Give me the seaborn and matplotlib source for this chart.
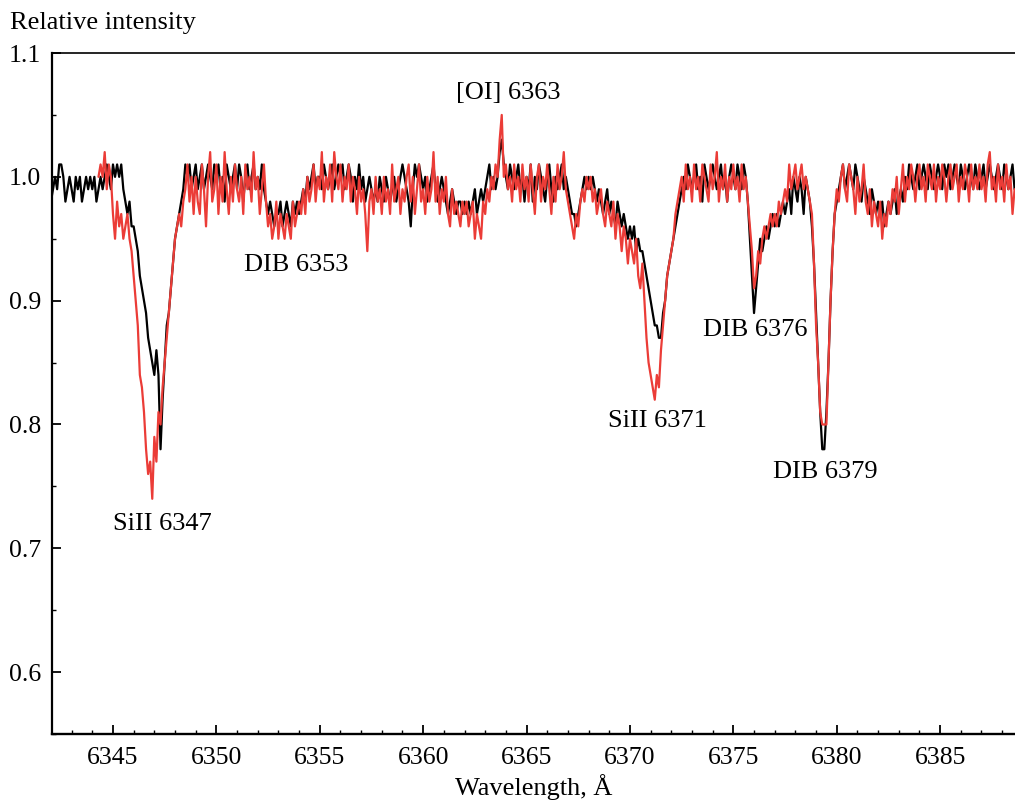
import numpy as np
import pandas as pd
import matplotlib
matplotlib.use("Agg")
import matplotlib.pyplot as plt
import seaborn as sns
from matplotlib.ticker import MultipleLocator

# spectra, in percent of the continuum, 0.1 A sampling
black_start = 6342.0
black_pct = [
    98, 99, 100, 99, 101, 101, 100, 98, 99, 100,      # 6342
    99, 98, 100, 99, 100, 98, 99, 100, 99, 100,       # 6343
    99, 100, 98, 99, 100, 99, 100, 101, 100, 99,      # 6344
    101, 100, 101, 100, 101, 99, 98, 97, 98, 96,      # 6345
    96, 95, 94, 92, 91, 90, 89, 87, 86, 85,           # 6346
    84, 86, 84, 78, 82, 85, 88, 89, 91, 93,           # 6347
    95, 96, 97, 98, 99, 101, 100, 101, 99, 100,       # 6348
    101, 99, 100, 101, 99, 100, 101, 100, 99, 101,    # 6349
    100, 101, 99, 100, 98, 101, 100, 99, 100, 101,    # 6350
    99, 101, 100, 98, 100, 101, 99, 100, 101, 99,     # 6351
    100, 99, 101, 99, 98, 97, 98, 97, 96, 97,         # 6352
    97, 98, 96, 97, 98, 97, 96, 98, 97, 98,           # 6353
    97, 98, 99, 98, 100, 99, 100, 101, 99, 100,       # 6354
    100, 99, 101, 100, 99, 100, 101, 99, 100, 101,    # 6355
    100, 101, 99, 100, 101, 100, 98, 100, 99, 101,    # 6356
    99, 100, 98, 99, 100, 99, 98, 99, 98, 100,        # 6357
    99, 98, 100, 99, 98, 99, 100, 98, 99, 100,        # 6358
    101, 100, 99, 98, 96, 99, 101, 100, 101, 100,     # 6359
    99, 100, 98, 99, 100, 101, 99, 98, 99, 100,       # 6360
    99, 98, 97, 98, 99, 98, 97, 98, 98, 97,           # 6361
    98, 97, 98, 97, 98, 99, 97, 98, 99, 98,           # 6362
    99, 100, 101, 99, 100, 99, 100, 102, 103, 101,    # 6363
    100, 99, 101, 100, 99, 100, 101, 99, 100, 98,     # 6364
    100, 99, 101, 98, 100, 99, 101, 100, 99, 98,      # 6365
    100, 101, 99, 98, 100, 99, 100, 101, 99, 100,     # 6366
    99, 98, 97, 97, 96, 97, 98, 99, 100, 99,          # 6367
    100, 99, 100, 99, 98, 99, 98, 97, 98, 99,         # 6368
    97, 98, 97, 96, 98, 97, 96, 97, 96, 95,           # 6369
    96, 95, 96, 94, 95, 94, 94, 93, 92, 91,           # 6370
    90, 89, 88, 88, 87, 87, 89, 90, 92, 93,           # 6371
    94, 95, 96, 97, 98, 99, 100, 99, 101, 100,        # 6372
    99, 100, 101, 99, 100, 98, 101, 100, 99, 100,     # 6373
    101, 100, 99, 100, 101, 99, 100, 98, 100, 101,    # 6374
    100, 99, 101, 100, 99, 101, 100, 98, 95, 92,      # 6375
    89, 91, 93, 95, 94, 95, 96, 95, 96, 97,           # 6376
    96, 97, 96, 97, 98, 97, 98, 99, 97, 100,          # 6377
    99, 98, 100, 99, 97, 100, 99, 98, 96, 93,         # 6378
    89, 85, 81, 78, 78, 81, 85, 90, 94, 97,           # 6379
    98, 99, 100, 101, 99, 100, 101, 100, 99, 101,     # 6380
    100, 99, 98, 100, 99, 98, 97, 99, 98, 97,         # 6381
    98, 97, 98, 96, 97, 98, 97, 98, 99, 97,           # 6382
    98, 99, 98, 100, 99, 101, 100, 99, 100, 101,      # 6383
    99, 100, 101, 100, 99, 101, 100, 99, 100, 101,    # 6384
    100, 99, 101, 100, 101, 99, 100, 101, 100, 99,    # 6385
    101, 100, 99, 100, 101, 100, 99, 101, 100, 99,    # 6386
    100, 101, 99, 100, 101, 100, 99, 100, 101, 100,   # 6387
    99, 101, 100, 99, 100, 101, 99,                   # 6388
]

red_start = 6344.3
red_pct = [
    100, 101, 100, 102, 99, 101, 100,                 # 6344.3
    97, 95, 98, 96, 97, 95, 96, 97, 95, 94,           # 6345
    92, 90, 88, 84, 83, 81, 78, 76, 77, 74,           # 6346
    79, 77, 81, 80, 83, 85, 87, 89, 91, 93,           # 6347
    95, 96, 97, 96, 98, 99, 101, 98, 100, 97,         # 6348
    100, 98, 97, 101, 99, 96, 100, 102, 98, 99,       # 6349
    101, 97, 100, 98, 102, 99, 97, 100, 98, 101,      # 6350
    99, 98, 100, 97, 101, 99, 100, 98, 102, 99,       # 6351
    100, 97, 99, 101, 98, 96, 97, 95, 96, 98,         # 6352
    95, 97, 96, 95, 97, 96, 95, 98, 96, 97,           # 6353
    98, 97, 99, 97, 100, 98, 99, 101, 98, 100,        # 6354
    99, 102, 98, 100, 99, 101, 98, 102, 100, 99,      # 6355
    101, 98, 100, 99, 101, 98, 100, 99, 97, 100,      # 6356
    98, 99, 97, 94, 98, 99, 97, 100, 98, 99,          # 6357
    97, 100, 98, 99, 97, 101, 98, 99, 100, 97,        # 6358
    99, 98, 100, 101, 98, 100, 97, 99, 101, 98,       # 6359
    99, 97, 100, 98, 99, 102, 98, 100, 97, 99,        # 6360
    98, 100, 97, 96, 99, 97, 98, 97, 96, 98,          # 6361
    97, 98, 96, 97, 98, 95, 97, 96, 95, 98,           # 6362
    97, 99, 98, 100, 99, 101, 100, 103, 105, 100,     # 6363
    101, 99, 100, 98, 101, 99, 100, 98, 101, 99,      # 6364
    100, 98, 101, 99, 97, 100, 101, 98, 100, 99,      # 6365
    101, 99, 97, 100, 98, 101, 99, 100, 102, 99,      # 6366
    98, 97, 96, 95, 97, 96, 98, 99, 98, 100,          # 6367
    99, 100, 98, 99, 97, 98, 99, 97, 96, 98,          # 6368
    97, 96, 98, 95, 97, 96, 94, 96, 95, 93,           # 6369
    95, 94, 93, 95, 92, 91, 93, 90, 87, 85,           # 6370
    84, 83, 82, 84, 83, 86, 88, 90, 92, 93,           # 6371
    94, 95, 97, 98, 99, 100, 98, 101, 99, 100,        # 6372
    98, 101, 99, 100, 98, 101, 100, 99, 98, 101,      # 6373
    99, 100, 102, 98, 100, 99, 101, 98, 100, 99,      # 6374
    101, 99, 100, 98, 101, 99, 100, 98, 96, 94,       # 6375
    91, 92, 94, 93, 95, 96, 95, 96, 97, 96,           # 6376
    97, 96, 98, 97, 98, 99, 98, 101, 99, 100,         # 6377
    101, 99, 100, 101, 99, 100, 99, 98, 97, 93,       # 6378
    88, 85, 81, 80, 80, 80, 85, 90, 94, 97,           # 6379
    99, 98, 100, 101, 99, 98, 101, 100, 99, 97,       # 6380
    100, 98, 99, 101, 98, 97, 99, 96, 98, 97,         # 6381
    96, 98, 95, 97, 96, 98, 97, 99, 98, 100,          # 6382
    97, 99, 101, 98, 100, 99, 101, 100, 98, 100,      # 6383
    101, 99, 100, 98, 101, 100, 99, 101, 98, 100,     # 6384
    99, 101, 100, 98, 100, 101, 99, 100, 101, 98,     # 6385
    100, 99, 101, 100, 98, 101, 99, 100, 99, 101,     # 6386
    99, 100, 98, 101, 102, 99, 100, 98, 101, 99,      # 6387
    100, 98, 101, 99, 100, 97, 99,                    # 6388
]
step = 0.1

line_labels = ["SiII 6347", "DIB 6353", "[OI] 6363", "SiII 6371", "DIB 6376", "DIB 6379"]
label_x = [6347.4, 6353.85, 6364.1, 6371.35, 6376.05, 6379.47]
label_y = [0.72, 0.929, 1.068, 0.803, 0.876, 0.762]

df_black = pd.DataFrame({
    "wl": black_start + step * np.arange(len(black_pct)),
    "flux": np.array(black_pct) / 100.0,
})
df_red = pd.DataFrame({
    "wl": red_start + step * np.arange(len(red_pct)),
    "flux": np.array(red_pct) / 100.0,
})

sns.set_theme(style="ticks")
plt.rcParams["font.family"] = ["Liberation Serif", "DejaVu Serif"]
plt.rcParams.update({"text.color": "black", "axes.labelcolor": "black",
                     "xtick.color": "black", "ytick.color": "black",
                     "axes.edgecolor": "black"})

fig = plt.figure(figsize=(10.15, 8.01), dpi=100)
ax = fig.add_axes([0.0512, 0.0836, 0.9488, 0.8502])

sns.lineplot(data=df_black, x="wl", y="flux", color="black", lw=1.6,
             estimator=None, sort=False, ax=ax)
sns.lineplot(data=df_red, x="wl", y="flux", color="#eb3c37", lw=1.6,
             estimator=None, sort=False, ax=ax)

for txt, lx, ly in zip(line_labels, label_x, label_y):
    ax.text(lx, ly, txt, ha="center", va="center", fontsize=19)

ax.set_xlim(6342.05, 6388.62)
ax.set_ylim(0.55, 1.1)
ax.xaxis.set_major_locator(MultipleLocator(5))
ax.xaxis.set_minor_locator(MultipleLocator(1))
ax.yaxis.set_minor_locator(MultipleLocator(0.05))
ax.set_yticks([0.6, 0.7, 0.8, 0.9, 1.0, 1.1])
ax.set_yticklabels(["0.6", "0.7", "0.8", "0.9", "1.0", "1.1"])
ax.tick_params(which="major", direction="in", length=6.7, width=1.3, labelsize=18.5)
ax.tick_params(which="minor", direction="in", length=3.2, width=1.0)
ax.tick_params(axis="x", which="major", pad=9)
ax.tick_params(axis="y", which="major", pad=8)

ax.set_xlabel("Wavelength, Å", fontsize=19, labelpad=4)
ax.set_ylabel("Relative intensity", fontsize=19, rotation=0, ha="left", va="baseline")
ax.yaxis.set_label_coords(-0.0436, 1.036)

ax.spines["right"].set_visible(False)
ax.spines["left"].set_linewidth(1.6)
ax.spines["bottom"].set_linewidth(1.7)
ax.spines["top"].set_linewidth(1.2)

fig.savefig("out.png", dpi=100)
